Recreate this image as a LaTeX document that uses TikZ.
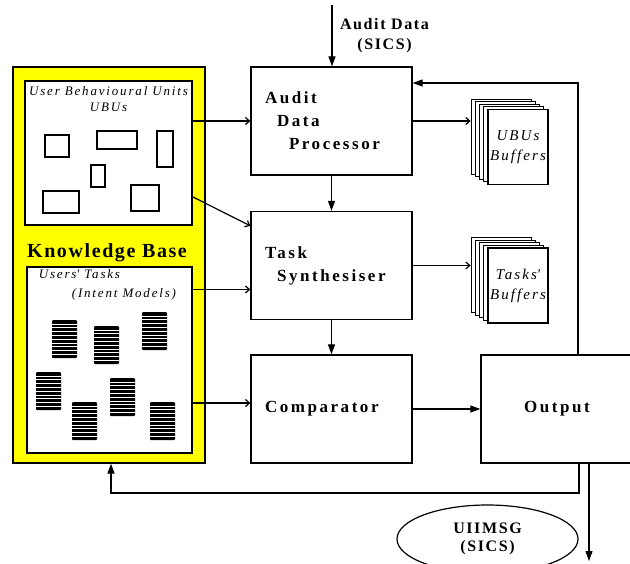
\documentclass[tikz,border=0pt]{standalone}
\usepackage{fontspec}
\setmainfont{Liberation Serif}
\newfontfamily\boxfont{Liberation Serif}[LetterSpace=15]
\newfontfamily\labelfont{Liberation Serif}[LetterSpace=10]
\newfontfamily\kbfont{Liberation Serif}[LetterSpace=8]
\newfontfamily\notefont{Liberation Serif}[LetterSpace=14]
\usepackage{tikz}
\usetikzlibrary{
  shapes.geometric,
  arrows.meta,
  positioning,
  calc
}
\definecolor{KbYellow}{RGB}{255, 255, 0}
\tikzset{
    procBox/.style={draw, line width=1.3pt, fill=white, minimum width=161pt, minimum height=108pt,
        inner sep=0pt, text width=133pt, align=left, font=\boxfont\bfseries\fontsize{17}{23}\selectfont},
    inBox/.style={draw, line width=1.3pt, fill=white, inner sep=0pt},
    bufPage/.style={draw, line width=1.1pt, fill=white, minimum width=60pt, minimum height=75pt, inner sep=0pt},
    noteText/.style={align=center, font=\notefont\itshape\fontsize{13}{16}\selectfont},
    bufText/.style={align=center, font=\notefont\itshape\fontsize{15}{20}\selectfont},
    smallText/.style={align=center, font=\labelfont\bfseries\fontsize{16}{20}\selectfont},
    flow/.style={line width=1.2pt, -{Straight Barb[length=4pt,width=7pt]}},
    feed/.style={line width=1.2pt, -{Triangle[length=10pt,width=7pt]}},
    ubuRect/.style={draw, line width=1.2pt}
}

\begin{document}
\begin{tikzpicture}[x=1pt, y=-1pt]
    \useasboundingbox (0,0) rectangle (630,563);

    % knowledge base
    \node[draw, line width=1.3pt, fill=KbYellow, minimum width=192pt, minimum height=396pt] (kb) at (109,265) {};
    \node[inBox, minimum width=167pt, minimum height=144pt] (ubuBox) at (108.5,153) {};
    \node[inBox, minimum width=165pt, minimum height=186pt] (tasksBox) at (109.5,360) {};
    \node[font=\kbfont\bfseries\fontsize{20}{23}\selectfont] (kbLbl) at (107,253) {Knowledge Base};
    \node[noteText, below=3pt of ubuBox.north] (ubuLbl) {User Behavioural Units\\UBUs};
    \node[noteText, align=left, anchor=north west] (tasksLbl) at ($(tasksBox.north west)+(9,0)$)
        {Users\textquotesingle\ Tasks\\[3pt]\hspace*{33pt}(Intent Models)};

    % behavioural units
    \foreach \xa/\ya/\xb/\yb in {45/135/69/157, 97/131/137/149, 157/131/173/167,
                                 91/165/105/187, 43/191/79/213, 131/185/159/211}
        \draw[ubuRect] (\xa,\ya) rectangle (\xb,\yb);

    % intent models
    \foreach \sx/\sy in {52/320, 94/326, 142/312, 36/372, 72/402, 110/378, 150/402} {
        \fill[rounded corners=1pt] (\sx,\sy) rectangle ++(25,38);
        \foreach \k in {1,...,9}
            \draw[white, line width=0.4pt] (\sx,{\sy+3.8*\k}) -- ++(25,0);
    }

    % processing chain
    \node[procBox] (ADP) at (331.5,121) {Audit\\\hspace*{12pt}Data\\\hspace*{24pt}Processor};
    \node[procBox] (TS) at (331.5,265.5) {Task\\\hspace*{12pt}Synthesiser};
    \node[procBox] (Comp) at (331.5,409) {\raisebox{-4pt}{Comparator}};
    \node[procBox, minimum width=152pt, text width=, align=center] (Output) at (557,409) {Output};

    % buffers
    \foreach \i in {4,3,2,1,0} {
        \node[bufPage] (ubuBuf\i) at ({518-4.2*\i},{147-2.6*\i}) {};
        \node[bufPage] (tasksBuf\i) at ({518-4.2*\i},{285.5-2.6*\i}) {};
    }
    \node[bufText] (ubuBufLbl) at (ubuBuf0) {UBUs\\Buffers};
    \node[bufText] (tasksBufLbl) at (tasksBuf0) {Tasks\textquotesingle\\Buffers};

    % audit input
    \coordinate (auditSrc) at (332,5);
    \draw[feed] (auditSrc) -- (auditSrc |- ADP.north);
    \node[smallText] (auditLbl) at (384.5,36) {Audit Data\\(SICS)};

    % knowledge base links
    \draw[flow] (ubuBox.east |- ADP.west) -- (ADP.west);
    \coordinate (ubuDiag) at (193,197);
    \draw[flow] (ubuDiag) -- ($(TS.north west)+(0,15)$);
    \coordinate (tsIn) at ($(TS.west)+(0,24)$);
    \draw[flow] (tsIn -| tasksBox.east) -- (tsIn);
    \coordinate (compIn) at ($(Comp.west)+(0,-6)$);
    \draw[flow] (compIn -| tasksBox.east) -- (compIn);

    % chain links
    \draw[flow] (ADP.east) -- (ADP.east -| ubuBuf4.west);
    \draw[flow] (TS.east) -- (TS.east -| tasksBuf4.west);
    \draw[feed] (ADP.south) -- (TS.north);
    \draw[feed] (TS.south) -- (Comp.north);
    \draw[feed] (Comp.east) -- (Output.west);

    % feedback
    \coordinate (fbTop) at (578,83);
    \draw[feed] (fbTop |- Output.north) -- (fbTop) -- (fbTop -| ADP.east);
    \coordinate (fbBot) at (579,493);
    \coordinate (kbFeed) at (111,493);
    \draw[feed] (fbBot |- Output.south) -- (fbBot) -- (kbFeed) -- (kbFeed |- kb.south);

    % output
    \coordinate (outEnd) at (589,561);
    \draw[feed] (outEnd |- Output.south) -- (outEnd);
    \node[draw, ellipse, line width=1.2pt, minimum width=181pt, minimum height=68pt, inner sep=0pt,
        smallText, font=\labelfont\bfseries\fontsize{16}{18}\selectfont] (uiimsg) at (487.5,539) {UIIMSG\\(SICS)};
\end{tikzpicture}
\end{document}
